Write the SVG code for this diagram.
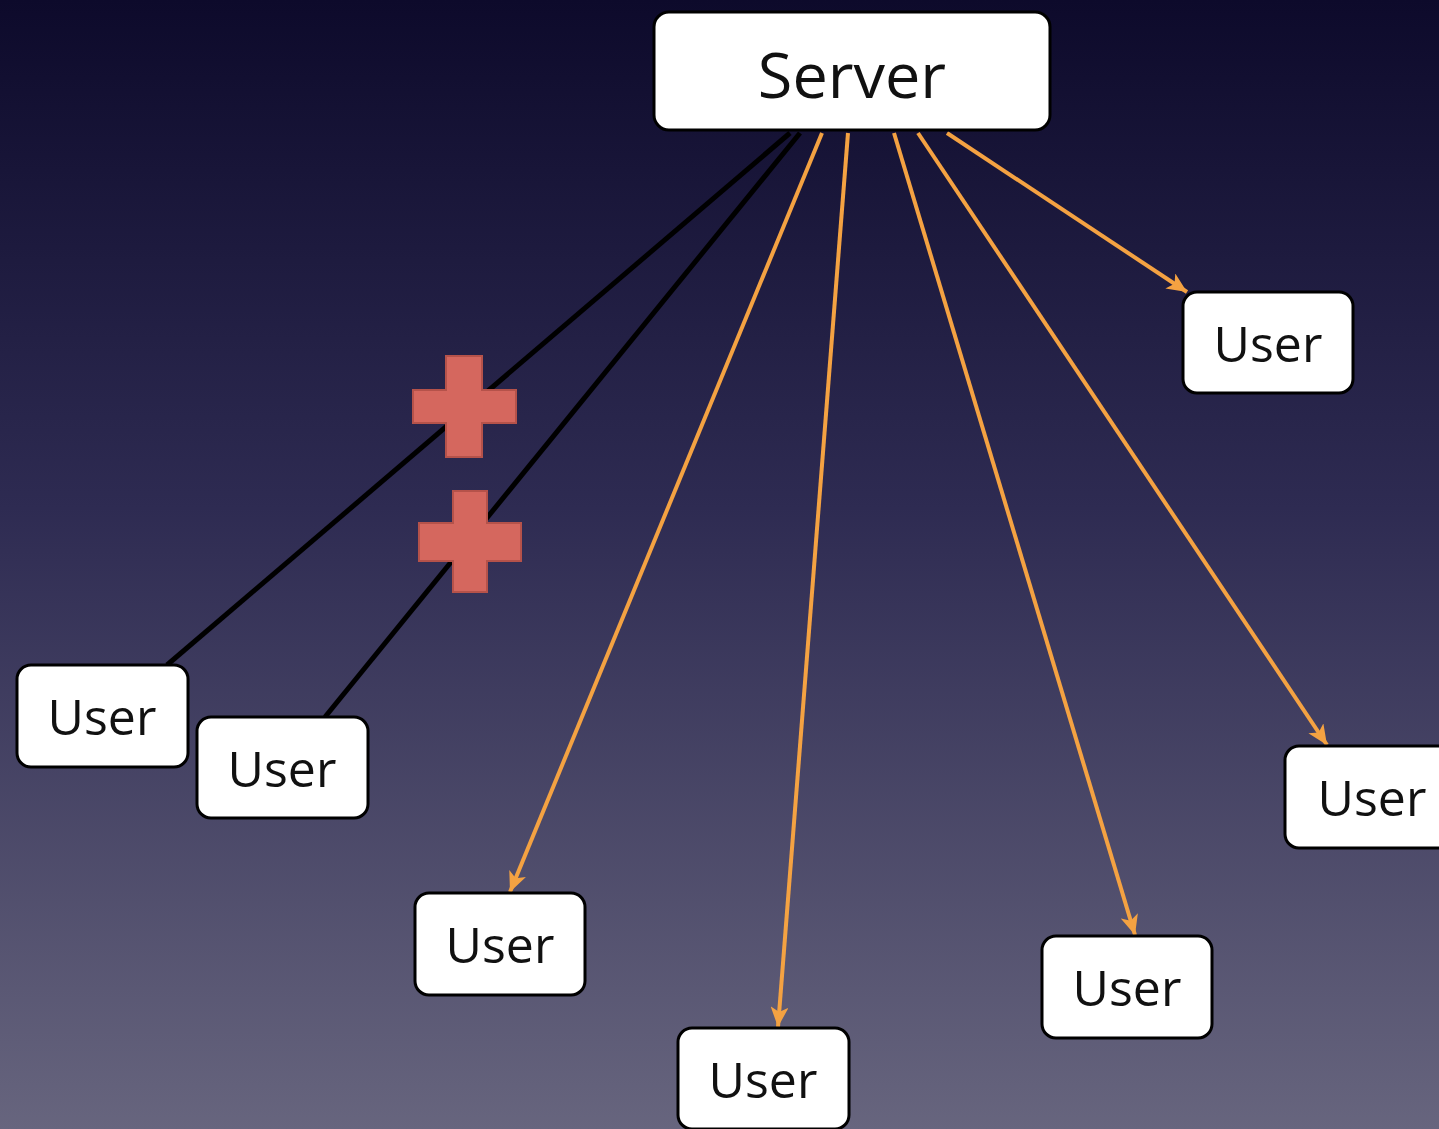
<svg xmlns="http://www.w3.org/2000/svg" width="1439" height="1129" viewBox="0 0 1439 1129">
<style>
.box{fill:#ffffff;stroke:#000000;stroke-width:3}
.lbl{font-family:"Open Sans","Liberation Sans",sans-serif;fill:#111111;text-anchor:middle}
.user{font-size:50px}
.srv{font-size:63px}
.blk{stroke:#000000;stroke-width:5;fill:none}
.org{stroke:#f4a242;stroke-width:4;fill:none;marker-end:url(#ah)}
.cross{fill:#d5675e;stroke:#b5524a;stroke-width:2}
</style>
<defs>
<linearGradient id="bg" x1="0" y1="0" x2="0" y2="1">
<stop offset="0" stop-color="#0d0a2b"/>
<stop offset="0.45" stop-color="#2e2b52"/>
<stop offset="1" stop-color="#67657e"/>
</linearGradient>
<marker id="ah" markerWidth="22" markerHeight="18" refX="20" refY="9" orient="auto" markerUnits="userSpaceOnUse">
<path d="M0,0 L20,9 L0,18 L5,9 Z" fill="#f4a242"/>
</marker>
</defs>
<rect x="0" y="0" width="1439" height="1129" fill="url(#bg)"/>
<g id="connectors">
<line class="blk" x1="790" y1="133" x2="167" y2="665"/>
<line class="blk" x1="800" y1="133" x2="325" y2="717"/>
<line class="org" x1="822" y1="133" x2="510" y2="892"/>
<line class="org" x1="848" y1="133" x2="778" y2="1027"/>
<line class="org" x1="894" y1="133" x2="1135" y2="935"/>
<line class="org" x1="918" y1="133" x2="1327" y2="745"/>
<line class="org" x1="947" y1="133" x2="1187" y2="292"/>
</g>
<g id="cross1">
<path class="cross" d="M446,356 H482 V390 H516 V423 H482 V457 H446 V423 H413 V390 H446 Z"/>
</g>
<g id="cross2">
<path class="cross" d="M453,491 H487 V523 H521 V561 H487 V592 H453 V561 H419 V523 H453 Z"/>
</g>
<g id="server">
<rect class="box" x="654" y="12" width="396" height="118" rx="15"/>
<text class="lbl srv" x="852" y="98">Server</text>
</g>
<g id="user1">
<rect class="box" x="1183" y="292" width="170" height="101" rx="14"/>
<text class="lbl user" x="1268" y="362">User</text>
</g>
<g id="user2">
<rect class="box" x="17" y="665" width="171" height="102" rx="14"/>
<text class="lbl user" x="102" y="735">User</text>
</g>
<g id="user3">
<rect class="box" x="197" y="717" width="171" height="101" rx="14"/>
<text class="lbl user" x="282" y="787">User</text>
</g>
<g id="user4">
<rect class="box" x="415" y="893" width="170" height="102" rx="14"/>
<text class="lbl user" x="500" y="963">User</text>
</g>
<g id="user5">
<rect class="box" x="678" y="1028" width="171" height="101" rx="14"/>
<text class="lbl user" x="763" y="1098">User</text>
</g>
<g id="user6">
<rect class="box" x="1042" y="936" width="170" height="102" rx="14"/>
<text class="lbl user" x="1127" y="1006">User</text>
</g>
<g id="user7">
<rect class="box" x="1285" y="746" width="171" height="102" rx="14"/>
<text class="lbl user" x="1372" y="816">User</text>
</g>
</svg>
